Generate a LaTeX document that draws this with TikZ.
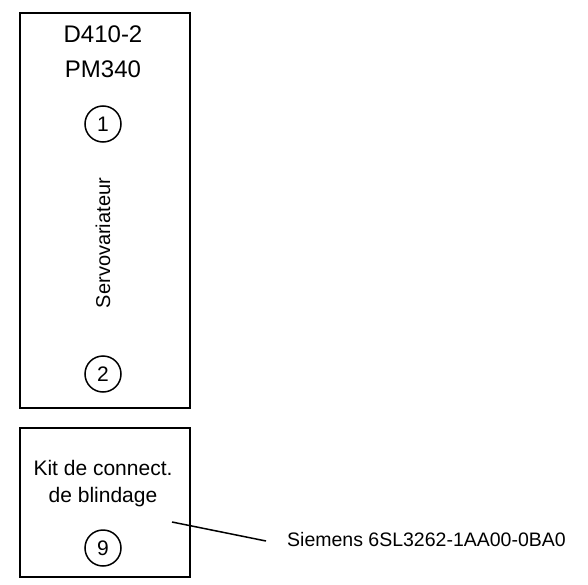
\documentclass[tikz,border=0pt]{standalone}
\usepackage{fontspec}
\setmainfont{Liberation Sans}
\begin{document}
\begin{tikzpicture}[x=1pt,y=-1pt,
  box/.style={draw,line width=2pt,inner sep=0pt},
  num/.style={draw,circle,line width=1.5pt,minimum size=36pt,inner sep=0pt,font=\fontsize{21}{21}\selectfont},
  txt/.style={inner sep=0pt,anchor=base},
  lead/.style={line width=1.5pt}]
\useasboundingbox (0,0) rectangle (588,585);
\node[box,minimum width=170pt,minimum height=395pt] (b1) at (105,210.5) {};
\node[box,minimum width=170pt,minimum height=149pt] (b2) at (105,502.5) {};
\node[txt,font=\fontsize{24}{24}\selectfont] (t1) at (103,43) {D410-2};
\node[txt,font=\fontsize{24}{24}\selectfont] (t2) at (103,78) {PM340};
\node[num] (n1) at (103,124) {1};
\node[txt,rotate=90,font=\fontsize{20}{20}\selectfont] (sv) at (110,243) {Servovariateur};
\node[num] (n2) at (103,374) {2};
\node[txt,font=\fontsize{21}{21}\selectfont] (k1) at (103,475) {Kit de connect.};
\node[txt,font=\fontsize{21}{21}\selectfont] (k2) at (103,502) {de blindage};
\node[num] (n9) at (103,548) {9};
\coordinate (c1) at (172,522);
\coordinate (c2) at (266,541);
\draw[lead] (c1) -- (c2);
\node[txt,anchor=base west,font=\fontsize{19.5}{19.5}\selectfont] (lbl) at (287,546.7) {Siemens 6SL3262-1AA00-0BA0};
\end{tikzpicture}
\end{document}
